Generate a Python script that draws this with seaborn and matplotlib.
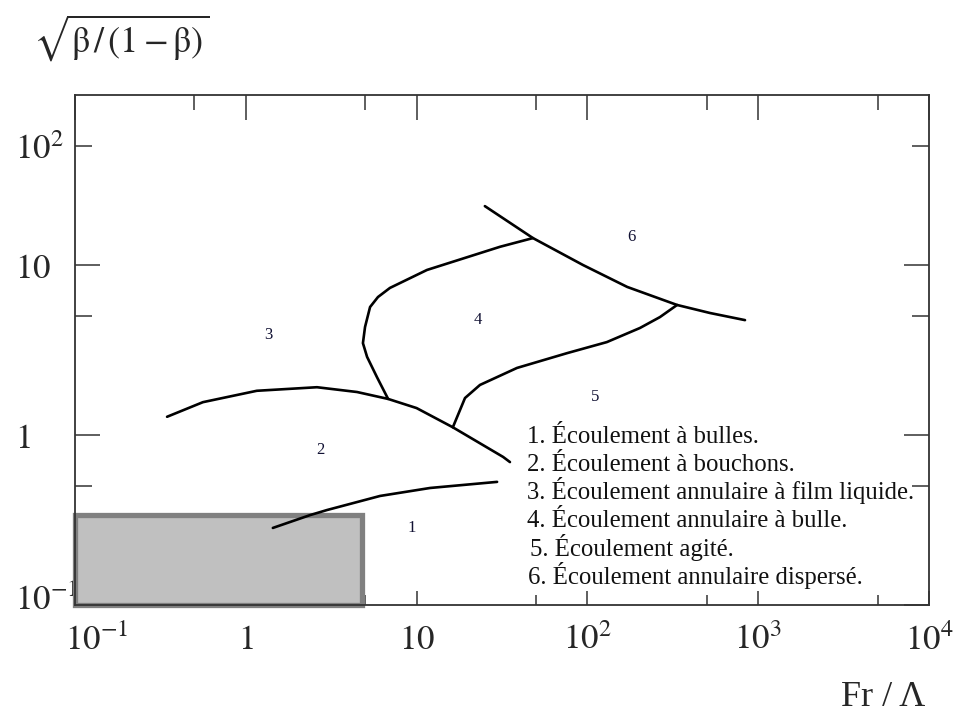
import matplotlib
matplotlib.use("Agg")
import matplotlib.pyplot as plt
from matplotlib.patches import Rectangle
from matplotlib.transforms import ScaledTranslation
import seaborn as sns
import pandas as pd

# ---------------- data ----------------
# boundary 2/3 (top of slug region)
a_x = [0.346, 0.561, 1.16, 2.61, 4.48, 6.81, 10.0, 16.3, 32.1, 35.2]
a_y = [1.28, 1.56, 1.82, 1.91, 1.79, 1.63, 1.44, 1.11, 0.743, 0.693]
# boundary 1/2 (bottom)
b_x = [1.44, 2.38, 2.99, 6.11, 12.0, 29.6]
b_y = [0.284, 0.338, 0.362, 0.438, 0.488, 0.530]
# boundary 3/4
c_x = [6.81, 5.86, 5.13, 4.85, 4.99, 5.34, 5.94, 6.98, 11.5, 19.7, 30.8, 48.0]
c_y = [1.63, 2.19, 2.88, 3.47, 4.32, 5.66, 6.48, 7.33, 9.35, 11.1, 12.8, 14.4]
# boundary of region 6
d_x = [25.1, 48.0, 94.2, 171, 335, 522, 837]
d_y = [22.2, 14.4, 10.0, 7.43, 5.82, 5.22, 4.74]
# boundary 4/5
e_x = [16.3, 19.2, 23.5, 38.7, 76.0, 130, 203, 266, 335]
e_y = [1.11, 1.65, 1.97, 2.48, 3.03, 3.52, 4.26, 4.94, 5.82]

region_labels = ["1", "2", "3", "4", "5", "6"]
region_x = [9.4, 2.72, 1.35, 22.9, 111, 180]
region_y = [0.284, 0.817, 3.87, 4.74, 1.67, 14.6]

legend_lines = [
    "1. Écoulement à bulles.",
    "2. Écoulement à bouchons.",
    "3. Écoulement annulaire à film liquide.",
    "4. Écoulement annulaire à bulle.",
    "5. Écoulement agité.",
    "6. Écoulement annulaire dispersé.",
]

box_x = [0.1, 4.8]
box_y = [0.1, 0.34]

x_major = [0.1, 1, 10, 100, 1000, 10000]
x_major_labels = [r"$10^{-1}$", r"$1$", r"$10$", r"$10^{2}$", r"$10^{3}$", r"$10^{4}$"]
x_minor = [0.5, 5, 50, 500, 5000]
y_major = [0.1, 1, 10]
y_major_labels = [r"$10^{-1}$", r"$1$", r"$10$"]
y_minor = [0.5, 5, 50]
y_minor_labels = ["", "", r"$10^{2}$"]

# ---------------- style ----------------
sns.set_theme(style="white")
plt.rcParams["font.family"] = ["Liberation Serif", "DejaVu Serif"]
plt.rcParams["mathtext.fontset"] = "stix"

W, H = 958, 719
fig = plt.figure(figsize=(W / 100, H / 100), dpi=100)
ax = fig.add_axes([75 / W, 1 - 605 / H, (929 - 75) / W, (605 - 95) / H])

curves = [(a_x, a_y), (b_x, b_y), (c_x, c_y), (d_x, d_y), (e_x, e_y)]
for cx, cy in curves:
    df = pd.DataFrame({"x": cx, "y": cy})
    sns.lineplot(data=df, x="x", y="y", sort=False, estimator=None,
                 color="black", linewidth=1.9, ax=ax, zorder=3)

ax.set_xscale("log")
ax.set_yscale("log")
ax.set_xlim(0.1, 10000)
ax.set_ylim(0.1, 100)
ax.set_xlabel("")
ax.set_ylabel("")

# gray box
ax.add_patch(Rectangle((box_x[0], box_y[0]), box_x[1] - box_x[0], box_y[1] - box_y[0],
                       facecolor="#c0c0c0", edgecolor="#808080", linewidth=3.8,
                       clip_on=False, zorder=1.5))

for sp in ax.spines.values():
    sp.set_color("#333333")
    sp.set_linewidth(1.3)
    sp.set_visible(True)

# x ticks (bottom)
ax.set_xticks(x_major)
ax.set_xticklabels(x_major_labels)
ax.set_xticks(x_minor, minor=True)
ax.set_xticklabels([""] * len(x_minor), minor=True)
ax.tick_params(axis="x", which="major", direction="in", length=10, width=1.1,
               color="#333333", labelsize=25, pad=14, bottom=True, top=False)
ax.tick_params(axis="x", which="minor", direction="in", length=7, width=1.1,
               color="#333333", bottom=True, top=False)

# y ticks (left/right)
ax.set_yticks(y_major)
ax.set_yticklabels(y_major_labels)
ax.set_yticks(y_minor, minor=True)
ax.set_yticklabels(y_minor_labels, minor=True)
ax.tick_params(axis="y", which="major", direction="in", length=18, width=1.1,
               color="#333333", labelsize=25, pad=43, left=True, right=True)
ax.tick_params(axis="y", which="minor", direction="in", length=12.5, width=1.1,
               color="#333333", labelsize=25, pad=43, left=True, right=True)
for lbl in ax.get_yticklabels() + ax.get_yticklabels(minor=True):
    lbl.set_horizontalalignment("left")

# top ticks via twin axis
ax2 = ax.twiny()
ax2.set_xscale("log")
ax2.set_xlim(ax.get_xlim())
ax2.set_xticks(x_major)
ax2.set_xticks(x_minor, minor=True)
ax2.set_xticklabels([""] * len(x_major))
ax2.set_xticklabels([""] * len(x_minor), minor=True)
ax2.tick_params(axis="x", which="major", direction="in", length=18, width=1.1,
                color="#333333", top=True, bottom=False)
ax2.tick_params(axis="x", which="minor", direction="in", length=11, width=1.1,
                color="#333333", top=True, bottom=False)
for sp in ax2.spines.values():
    sp.set_visible(False)

# shift first x label and first y label as in the reference
xl = ax.get_xticklabels()[0]
xl.set_transform(xl.get_transform() + ScaledTranslation(22 / 100, 0, fig.dpi_scale_trans))
yl = ax.get_yticklabels()[0]
yl.set_transform(yl.get_transform() + ScaledTranslation(0, 8 / 100, fig.dpi_scale_trans))

# region numbers
for t, rx, ry in zip(region_labels, region_x, region_y):
    ax.text(rx, ry, t, fontsize=12, ha="center", va="center", color="#111133", zorder=4)

# legend-like text block
baselines = [443, 471, 499, 527, 556, 584]
lefts = [527, 527, 527, 527, 530, 528]
for txt, bx, by in zip(legend_lines, lefts, baselines):
    fig.text(bx / W, 1 - by / H, txt, fontsize=17.8, ha="left", va="baseline", color="#111111")

# axis titles
fig.text(33 / W, 1 - 52 / H, r"$\sqrt{\mathrm{β\,/\,(1-β)}}$", fontsize=26,
         ha="left", va="baseline")
fig.text(925 / W, 1 - 706 / H, "Fr / Λ", fontsize=26, ha="right", va="baseline")

fig.savefig("out.png", dpi=100)
